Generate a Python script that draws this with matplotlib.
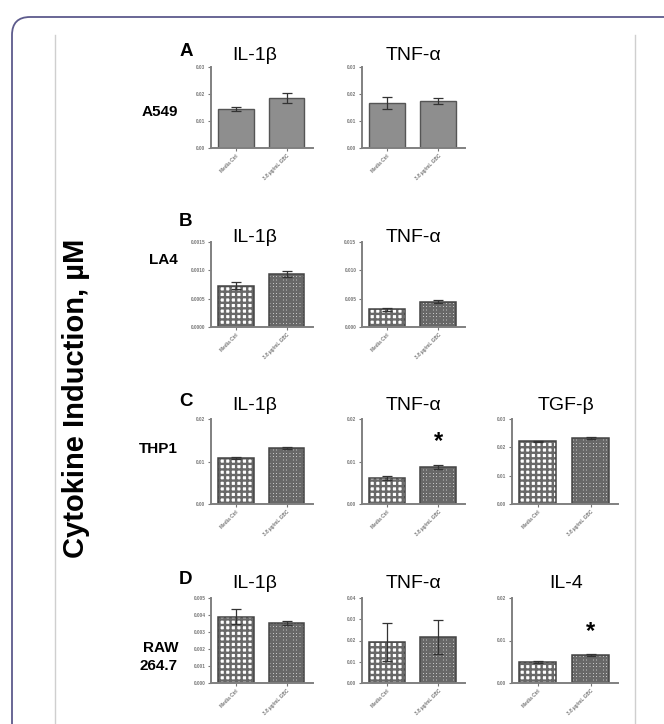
import matplotlib
matplotlib.use("Agg")
import matplotlib.pyplot as plt
from matplotlib.patches import FancyBboxPatch
from matplotlib.lines import Line2D
import numpy as np

plt.rcParams['font.family'] = ['Liberation Sans', 'DejaVu Sans']
plt.rcParams['hatch.linewidth'] = 1.7

# x categories
groups = ["Media Ctrl", "3.8 \u00b5g/mL GBC"]

# A549
il1b_a549 = [0.0144, 0.0185]
il1b_a549_err = [0.0008, 0.0019]
tnf_a549 = [0.0167, 0.0174]
tnf_a549_err = [0.0022, 0.0010]

# LA4
il1b_la4 = [0.00073, 0.00093]
il1b_la4_err = [0.00006, 0.00005]
tnf_la4 = [0.0031, 0.0045]
tnf_la4_err = [0.0002, 0.0002]

# THP1
il1b_thp1 = [0.0108, 0.0132]
il1b_thp1_err = [0.0002, 0.0003]
tnf_thp1 = [0.0061, 0.0087]
tnf_thp1_err = [0.0005, 0.0004]
tgf_thp1 = [0.0222, 0.0233]
tgf_thp1_err = [0.0002, 0.0002]

# RAW 264.7
il1b_raw = [0.0039, 0.00353]
il1b_raw_err = [0.00045, 0.0001]
tnf_raw = [0.0193, 0.0216]
tnf_raw_err = [0.0089, 0.0080]
il4_raw = [0.0049, 0.0066]
il4_raw_err = [0.0002, 0.0002]

# star positions (y value above the treated bar)
tnf_thp1_star = 0.0146
il4_raw_star = 0.0122

W, H = 664, 724
fig = plt.figure(figsize=(W / 100, H / 100), dpi=100)

# frame like the journal figure box
box = FancyBboxPatch((0.12, -0.5), 7.2, 7.57, boxstyle="round,pad=0,rounding_size=0.18",
                     transform=fig.dpi_scale_trans, fill=False, ec='#5d5b8c', lw=1.3)
fig.patches.append(box)
for xv in (55, 635):
    fig.lines.append(Line2D([xv / W, xv / W], [0, 1 - 35 / H], transform=fig.transFigure,
                            color='#cfcfcf', lw=1))


def px_axes(x0, y0, x1, y1):
    return fig.add_axes([x0 / W, 1 - y1 / H, (x1 - x0) / W, (y1 - y0) / H])


col_x = [(211, 313), (362, 465), (512, 618)]
row_y = [(67, 148), (242, 327), (419, 504), (598, 683)]
title_y = [55, 238, 406, 583]
title_x = [255, 413, 566]


def draw_panel(row, col, title, vals, errs, ymax, ystep, fmt, solid=False, star=None):
    ax = px_axes(col_x[col][0], row_y[row][0], col_x[col][1], row_y[row][1])
    x = np.arange(len(groups))
    if solid:
        ax.bar(x, vals, width=0.7, color='#8e8e8e', edgecolor='#555555', lw=1.0)
    else:
        for i, h in enumerate(['+++', '+++++']):
            ax.bar(x[i], vals[i], width=0.7, color='white', edgecolor='#686868',
                   hatch=h, lw=0)
        ax.bar(x, vals, width=0.7, fill=False, edgecolor='#444444', lw=1.1)
    ax.errorbar(x, vals, yerr=errs, fmt='none', ecolor='#333333', elinewidth=0.9,
                capsize=3.5, capthick=0.9)
    if star is not None:
        ax.text(1, star, '*', ha='center', va='center', fontsize=17, fontweight='bold')
    ax.set_xlim(-0.49, 1.52)
    ax.set_ylim(0, ymax)
    ticks = np.arange(0, ymax + ystep / 2, ystep)
    ax.set_yticks(ticks)
    ax.set_yticklabels([fmt.format(v) for v in ticks],
                       fontsize=3.4, fontweight='bold', color='#444444')
    ax.set_xticks(x)
    ax.set_xticklabels(groups, rotation=45, ha='right', rotation_mode='anchor',
                       fontsize=3.4, fontweight='bold', color='#444444')
    ax.tick_params(length=2.5, width=0.8, colors='#777777', pad=1.5)
    for s in ('top', 'right'):
        ax.spines[s].set_visible(False)
    for s in ('left', 'bottom'):
        ax.spines[s].set_color('#808080')
        ax.spines[s].set_linewidth(1.4)
    fig.text(title_x[col] / W, 1 - title_y[row] / H, title, ha='center', va='center',
             fontsize=14)
    return ax


draw_panel(0, 0, 'IL-1\u03b2', il1b_a549, il1b_a549_err, 0.03, 0.01, '{:.2f}', solid=True)
draw_panel(0, 1, 'TNF-\u03b1', tnf_a549, tnf_a549_err, 0.03, 0.01, '{:.2f}', solid=True)

draw_panel(1, 0, 'IL-1\u03b2', il1b_la4, il1b_la4_err, 0.0015, 0.0005, '{:.4f}')
draw_panel(1, 1, 'TNF-\u03b1', tnf_la4, tnf_la4_err, 0.015, 0.005, '{:.3f}')

draw_panel(2, 0, 'IL-1\u03b2', il1b_thp1, il1b_thp1_err, 0.02, 0.01, '{:.2f}')
draw_panel(2, 1, 'TNF-\u03b1', tnf_thp1, tnf_thp1_err, 0.02, 0.01, '{:.2f}', star=tnf_thp1_star)
draw_panel(2, 2, 'TGF-\u03b2', tgf_thp1, tgf_thp1_err, 0.03, 0.01, '{:.2f}')

draw_panel(3, 0, 'IL-1\u03b2', il1b_raw, il1b_raw_err, 0.005, 0.001, '{:.3f}')
draw_panel(3, 1, 'TNF-\u03b1', tnf_raw, tnf_raw_err, 0.04, 0.01, '{:.2f}')
draw_panel(3, 2, 'IL-4', il4_raw, il4_raw_err, 0.02, 0.01, '{:.2f}', star=il4_raw_star)

# panel letters
for letter, yy in zip('ABCD', [52, 222, 401, 580]):
    fig.text(186 / W, 1 - yy / H, letter, ha='center', va='center', fontsize=13.5,
             fontweight='bold')

# cell line labels
for lab, yy in zip(['A549', 'LA4', 'THP1', 'RAW\n264.7'], [112, 260, 449, 657]):
    fig.text(178 / W, 1 - yy / H, lab, ha='right', va='center', fontsize=11,
             fontweight='bold', linespacing=1.3)

fig.text(76 / W, 1 - 398 / H, 'Cytokine Induction, \u00b5M', rotation=90, ha='center',
         va='center', fontsize=21, fontweight='bold')

fig.savefig('out.png', dpi=100)
